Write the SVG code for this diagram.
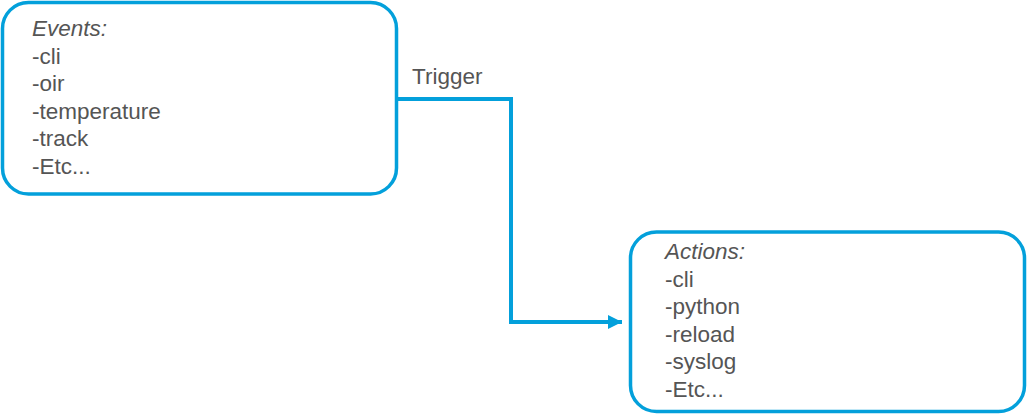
<svg xmlns="http://www.w3.org/2000/svg" width="1028" height="415" viewBox="0 0 1028 415">
<style>
.box{fill:#fff;stroke:#03a0db;stroke-width:3.5}
.t{font-family:"Liberation Sans",Arial,sans-serif;font-size:22.5px;fill:#555555}
.h{font-style:italic}
.con{fill:none;stroke:#03a0db;stroke-width:4}
</style>
<defs>
<marker id="arr" markerUnits="userSpaceOnUse" markerWidth="16" markerHeight="16" refX="14" refY="8" orient="auto">
<path d="M0,1 L14,8 L0,15 Z" fill="#03a0db"/>
</marker>
</defs>
<rect width="1028" height="415" fill="#fff"/>
<g id="connectors">
<path class="con" d="M397,99 H511 V322 H622" marker-end="url(#arr)"/>
<text class="t" x="412" y="84">Trigger</text>
</g>
<g id="events">
<rect class="box" x="2.5" y="2.5" width="394" height="191.5" rx="26"/>
<text class="t h" x="32" y="36">Events:</text>
<text class="t" x="32" y="63.5">-cli</text>
<text class="t" x="32" y="91">-oir</text>
<text class="t" x="32" y="118.5">-temperature</text>
<text class="t" x="32" y="146">-track</text>
<text class="t" x="32" y="173.5">-Etc...</text>
</g>
<g id="actions">
<rect class="box" x="630.5" y="232" width="394" height="179.5" rx="26"/>
<text class="t h" x="665" y="259">Actions:</text>
<text class="t" x="665" y="286.5">-cli</text>
<text class="t" x="665" y="314">-python</text>
<text class="t" x="665" y="341.5">-reload</text>
<text class="t" x="665" y="369">-syslog</text>
<text class="t" x="665" y="396.5">-Etc...</text>
</g>
</svg>
